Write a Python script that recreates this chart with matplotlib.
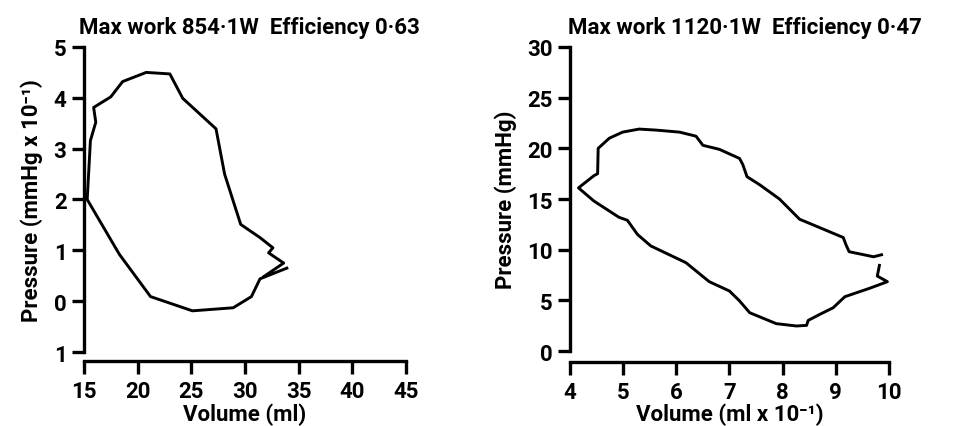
import matplotlib
import matplotlib.pyplot as plt
from matplotlib import font_manager

matplotlib.use("Agg")

# Left loop: volume (ml) vs pressure (mmHg x 10^-1)
left_vol = [33.9, 31.4, 30.6, 28.9, 25.1, 21.2, 18.3, 15.3, 15.6, 16.1, 15.9,
            17.5, 18.6, 20.8, 23.0, 24.2, 27.3, 28.1, 29.6, 31.4, 32.6, 32.2,
            33.6, 31.8]
left_pres = [0.65, 0.44, 0.09, -0.13, -0.19, 0.09, 0.92, 2.0, 3.16, 3.52, 3.81,
             4.02, 4.32, 4.50, 4.47, 3.99, 3.39, 2.50, 1.51, 1.25, 1.05, 0.95,
             0.75, 0.49]

# Right loop: volume (ml x 10^-1) vs pressure (mmHg)
right_vol = [9.82, 9.78, 9.97, 9.64, 9.17, 8.95, 8.70, 8.48, 8.45, 8.26, 7.88,
             7.38, 7.19, 7.00, 6.62, 6.18, 5.52, 5.27, 5.08, 4.92, 4.45, 4.16,
             4.45, 4.52, 4.53, 4.74, 4.99, 5.30, 5.62, 6.06, 6.37, 6.50, 6.81,
             7.19, 7.25, 7.33, 7.57, 7.94, 8.32, 8.64, 9.14, 9.19, 9.25, 9.71,
             9.86]
right_pres = [8.45, 7.4, 6.84, 6.2, 5.36, 4.27, 3.62, 3.02, 2.53, 2.47, 2.7,
              3.78, 4.94, 5.92, 6.84, 8.72, 10.37, 11.5, 12.9, 13.2, 14.8, 16.1,
              17.3, 17.5, 20.0, 21.0, 21.6, 21.9, 21.8, 21.6, 21.2, 20.3, 19.9,
              19.0, 18.4, 17.2, 16.4, 15.0, 13.0, 12.3, 11.2, 10.5, 9.8, 9.3,
              9.5]

left_xticks = [15, 20, 25, 30, 35, 40, 45]
left_yticks = [-1, 0, 1, 2, 3, 4, 5]
left_yticklabels = ["1", "0", "1", "2", "3", "4", "5"]
right_xticks = [4, 5, 6, 7, 8, 9, 10]
right_yticks = [0, 5, 10, 15, 20, 25, 30]

titles = ["Max work 854\u00b71W  Efficiency 0\u00b763",
          "Max work 1120\u00b71W  Efficiency 0\u00b747"]

installed = {f.name for f in font_manager.fontManager.ttflist}
family = "Roboto" if "Roboto" in installed else "DejaVu Sans"
plt.rcParams["font.family"] = [family, "DejaVu Sans"]
plt.rcParams["font.weight"] = "bold"
plt.rcParams["axes.titleweight"] = "bold"
plt.rcParams["axes.labelweight"] = "bold"
FS = 16

fig = plt.figure(figsize=(9.72, 4.27), dpi=100)
ax1 = fig.add_axes([0.0864, 0.1733, 0.3313, 0.7143])
ax2 = fig.add_axes([0.5864, 0.1756, 0.3282, 0.7120])


def style(ax, xticks, yticks, out):
    for s in ["top", "right"]:
        ax.spines[s].set_visible(False)
    ax.spines["left"].set_linewidth(2.4)
    ax.spines["bottom"].set_linewidth(2.4)
    ax.spines["left"].set_bounds(yticks[0], yticks[-1])
    ax.spines["bottom"].set_bounds(xticks[0], xticks[-1])
    ax.spines["bottom"].set_position(("outward", out))
    ax.set_xticks(xticks)
    ax.set_yticks(yticks)
    ax.set_xlim(xticks[0], xticks[-1])
    ax.set_ylim(yticks[0], yticks[-1])
    ax.tick_params(axis="both", length=9, width=2.4, labelsize=FS)
    ax.tick_params(axis="y", pad=3.5)
    ax.tick_params(axis="x", pad=4.5)


ax1.plot(left_vol, left_pres, color="black", linewidth=2.1,
         solid_joinstyle="round", clip_on=False)
style(ax1, left_xticks, left_yticks, 6.5)
ax1.set_yticklabels(left_yticklabels)
ax1.set_xlabel("Volume (ml)", fontsize=FS, va="baseline")
ax1.xaxis.set_label_coords(0.5, -0.222)
ax1.set_ylabel("Pressure (mmHg x 10\u207b\u00b9)", fontsize=FS, labelpad=8)
ax1.set_title(titles[0], loc="left", x=-0.015, fontsize=FS, pad=10)

ax2.plot(right_vol, right_pres, color="black", linewidth=2.1,
         solid_joinstyle="round", clip_on=False)
style(ax2, right_xticks, right_yticks, 8)
ax2.set_xlabel("Volume (ml x 10\u207b\u00b9)", fontsize=FS, va="baseline")
ax2.xaxis.set_label_coords(0.5, -0.226)
ax2.set_ylabel("Pressure (mmHg)", fontsize=FS, labelpad=7)
ax2.set_title(titles[1], loc="left", x=-0.005, fontsize=FS, pad=10)

fig.savefig("out.png", dpi=100, facecolor="white")
plt.close(fig)
